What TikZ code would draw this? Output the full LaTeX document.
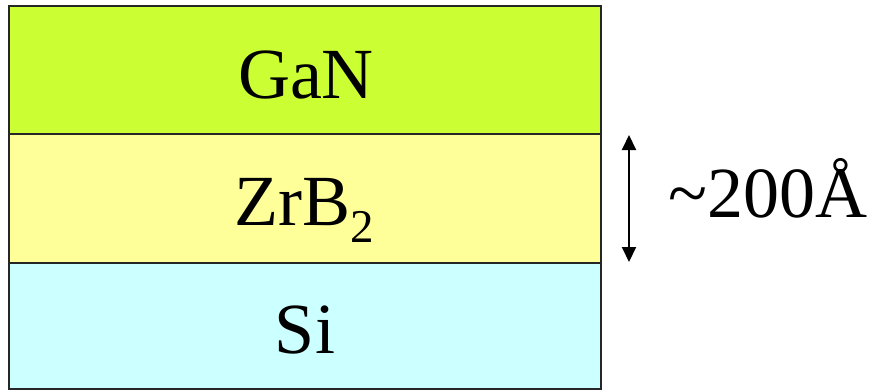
\documentclass[tikz,border=0pt]{standalone}
\usepackage{fontspec}
\setmainfont{Liberation Serif}
\usetikzlibrary{arrows.meta}
\definecolor{gancol}{HTML}{CCFF33}
\definecolor{zrbcol}{HTML}{FFFF99}
\definecolor{sicol}{HTML}{CCFFFF}
\begin{document}
\begin{tikzpicture}[x=1pt,y=-1pt,
  layer/.style={draw=black!85,line width=2pt},
  lbl/.style={anchor=base,inner sep=0pt,font=\fontsize{72}{80}\selectfont},
  dim/.style={line width=2pt,{Triangle[length=15pt,width=14pt]}-{Triangle[length=15pt,width=14pt]}}]
  \useasboundingbox (0,0) rectangle (878,391);
  % layer stack
  \filldraw[layer,fill=gancol] (9,6) rectangle (601,134);
  \filldraw[layer,fill=zrbcol] (9,134) rectangle (601,263);
  \filldraw[layer,fill=sicol] (9,263) rectangle (601,389);
  % layer names
  \node[lbl] (gan) at (306,98) {GaN};
  \node[lbl] (zrb) at (304,225) {ZrB\raisebox{-17pt}{\fontsize{47}{50}\selectfont 2}};
  \node[lbl] (si) at (305,353) {Si};
  % thickness marker
  \coordinate (top) at (629,135);
  \coordinate (bot) at (629,262);
  \draw[dim] (top) -- (bot);
  \node[lbl,anchor=base west] (thk) at (668,217) {\textasciitilde 200Å};
\end{tikzpicture}
\end{document}
